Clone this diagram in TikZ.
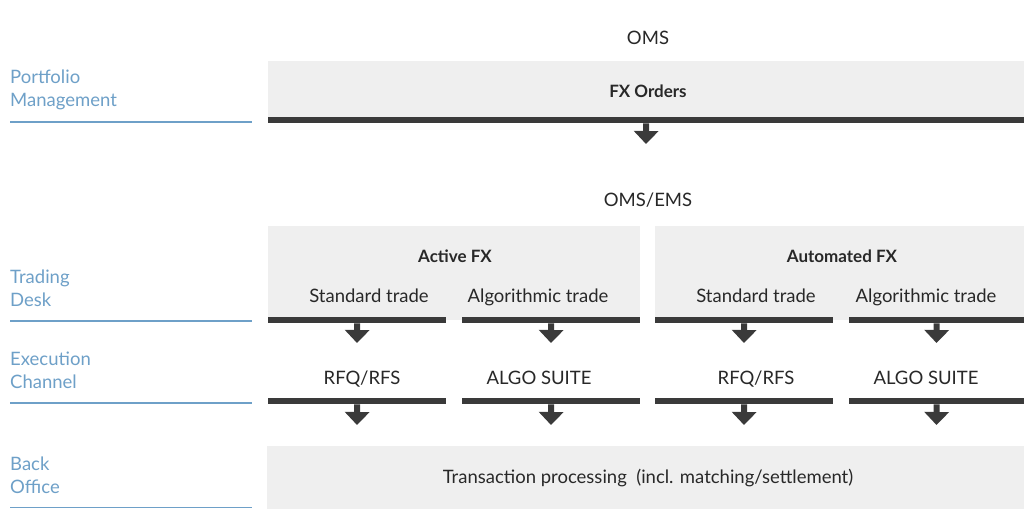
\documentclass[tikz,border=0pt]{standalone}
\usepackage{fontspec}
\setmainfont{Lato}
\usetikzlibrary{arrows.meta}
\definecolor{boxgray}{RGB}{239,239,239}
\definecolor{bardark}{RGB}{58,58,58}
\definecolor{txt}{RGB}{40,40,40}
\definecolor{lblue}{RGB}{110,160,200}
\tikzset{
  graybox/.style={fill=boxgray, draw=none, inner sep=0pt, anchor=north west},
  barbox/.style={fill=bardark, draw=none, inner sep=0pt, anchor=north west, minimum height=6pt},
  arr/.style={draw=bardark, line width=6pt, -{Triangle[width=24pt,length=13pt]}},
  txtnode/.style={text=txt, font=\fontsize{18.5}{21}\selectfont, inner sep=0pt, text height=13pt, text depth=0pt},
  boldtxt/.style={txtnode, font=\fontsize{17}{20}\selectfont\bfseries},
  lbl/.style={text=lblue, font=\fontsize{18.5}{23}\selectfont, align=left, anchor=west, inner sep=0pt},
  bline/.style={draw=lblue, line width=1.6pt}
}
\begin{document}
\begin{tikzpicture}[x=1pt,y=-1pt]
\useasboundingbox[fill=white] (0,0) rectangle (1024,509);

% ---------- Portfolio Management ----------
\node[txtnode] (oms) at (648,38) {OMS};
\node[graybox, minimum width=756pt, minimum height=58pt] (fxbox) at (268,61) {};
\node[boldtxt] (fxorders) at (648,91) {FX Orders};
\node[barbox, minimum width=756pt] (b0) at (268,117) {};
\coordinate (t0) at (646,144);
\draw[arr] (b0.south) -- (t0);

\node[lbl] (l1) at (10,90) {Portfolio\\Management};
\draw[bline] (10,122) -- (252,122);

% ---------- Trading Desk ----------
\node[txtnode] (omsems) at (648,200) {OMS/EMS};
\node[graybox, minimum width=372pt, minimum height=94pt] (active) at (268,226) {};
\node[graybox, minimum width=369pt, minimum height=94pt] (auto) at (655,226) {};
\node[boldtxt] (activet) at (455,256) {Active FX};
\node[boldtxt] (autot) at (842,256) {Automated FX};
\node[txtnode] (st1) at (369,296) {Standard trade};
\node[txtnode] (at1) at (538,296) {Algorithmic trade};
\node[txtnode] (st2) at (756,296) {Standard trade};
\node[txtnode] (at2) at (926,296) {Algorithmic trade};

\node[barbox, minimum width=178pt] (b11) at (268,317) {};
\node[barbox, minimum width=178pt] (b12) at (462,317) {};
\node[barbox, minimum width=178pt] (b13) at (655,317) {};
\node[barbox, minimum width=175pt] (b14) at (849,317) {};
\coordinate (t11) at (357,343);
\coordinate (t12) at (551,343);
\coordinate (t13) at (744,343);
\coordinate (t14) at (936.5,343);
\draw[arr] (b11.south) -- (t11);
\draw[arr] (b12.south) -- (t12);
\draw[arr] (b13.south) -- (t13);
\draw[arr] (b14.south) -- (t14);

\node[lbl] (l2) at (10,288.5) {Trading\\Desk};
\draw[bline] (10,321) -- (252,321);

% ---------- Execution Channel ----------
\node[txtnode] (rfq1) at (362,378) {RFQ/RFS};
\node[txtnode] (algo1) at (539,378) {ALGO SUITE};
\node[txtnode] (rfq2) at (756,378) {RFQ/RFS};
\node[txtnode] (algo2) at (926,378) {ALGO SUITE};

\node[barbox, minimum width=178pt] (b21) at (268,398) {};
\node[barbox, minimum width=178pt] (b22) at (462,398) {};
\node[barbox, minimum width=178pt] (b23) at (655,398) {};
\node[barbox, minimum width=175pt] (b24) at (849,398) {};
\coordinate (t21) at (357,425);
\coordinate (t22) at (551,425);
\coordinate (t23) at (744,425);
\coordinate (t24) at (936.5,425);
\draw[arr] (b21.south) -- (t21);
\draw[arr] (b22.south) -- (t22);
\draw[arr] (b23.south) -- (t23);
\draw[arr] (b24.south) -- (t24);

\node[lbl] (l3) at (10,370.5) {Execution\\Channel};
\draw[bline] (10,403) -- (252,403);

% ---------- Back Office ----------
\node[graybox, minimum width=757pt, minimum height=63pt] (tpbox) at (267,446) {};
\node[txtnode] (tp) at (648,477) {Transaction processing\ \ (incl. matching/settlement)};

\node[lbl] (l4) at (10,475.5) {Back\\Office};
\draw[bline] (10,507.5) -- (252,507.5);
\end{tikzpicture}
\end{document}
